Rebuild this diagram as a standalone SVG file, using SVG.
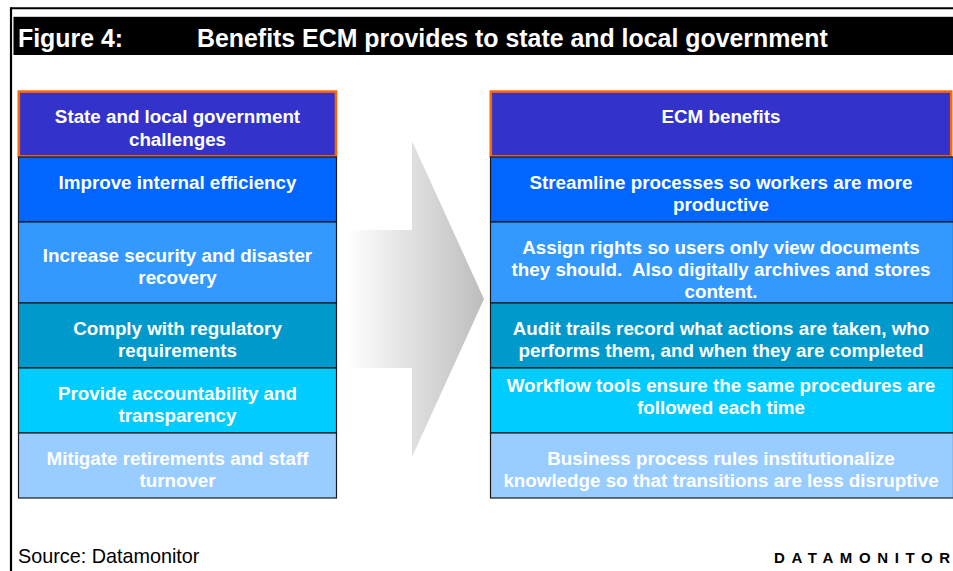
<svg xmlns="http://www.w3.org/2000/svg" width="953" height="571" viewBox="0 0 953 571">
<defs>
<linearGradient id="arrowGrad" gradientUnits="userSpaceOnUse" x1="347" y1="0" x2="484" y2="0">
<stop offset="0" stop-color="#FFFFFF"/>
<stop offset="1" stop-color="#BDBDBD"/>
</linearGradient>
<style>
.t{font-family:"Liberation Sans",Arial,sans-serif;font-weight:bold;font-size:18.8px;fill:#FFFFFF;text-anchor:middle;white-space:pre}
.hdr{fill:#3333CC;stroke:#FF6600;stroke-width:2.6}
.row{stroke:#1a1a1a;stroke-width:1.2}
.r1{fill:#0066FF}.r2{fill:#3399FF}.r3{fill:#0099CC}.r4{fill:#00CCFF}.r5{fill:#99CCFF}
.title{font-family:"Liberation Sans",Arial,sans-serif;font-weight:bold;font-size:24.9px;fill:#FFFFFF}
</style>
</defs>
<rect width="953" height="571" fill="#FFFFFF"/>
<g id="frame">
<line x1="11" y1="8.3" x2="953" y2="8.3" stroke="#000" stroke-width="2"/>
<line x1="11" y1="7.3" x2="11" y2="571" stroke="#000" stroke-width="2.2"/>
<rect x="13.5" y="16.8" width="939.5" height="38.2" fill="#000"/>
<text class="title" x="18" y="47">Figure 4:</text>
<text class="title" x="197" y="47">Benefits ECM provides to state and local government</text>
</g>
<g id="connectors">
<polygon points="347,230 412,230 412,141 484,299 412,457 412,368 347,368" fill="url(#arrowGrad)"/>
</g>
<g id="left-header">
<rect class="hdr" x="18.8" y="91.6" width="317.2" height="64.8"/>
<text class="t" x="177.5" y="123">State and local government</text>
<text class="t" x="177.5" y="146">challenges</text>
</g>
<g id="left-row1">
<rect class="row r1" x="18.5" y="157" width="318" height="65"/>
<text class="t" x="177.5" y="189.3">Improve internal efficiency</text>
</g>
<g id="left-row2">
<rect class="row r2" x="18.5" y="222" width="318" height="81"/>
<text class="t" x="177.5" y="261.6">Increase security and disaster</text>
<text class="t" x="177.5" y="283.8">recovery</text>
</g>
<g id="left-row3">
<rect class="row r3" x="18.5" y="303" width="318" height="65"/>
<text class="t" x="177.5" y="335">Comply with regulatory</text>
<text class="t" x="177.5" y="357">requirements</text>
</g>
<g id="left-row4">
<rect class="row r4" x="18.5" y="368" width="318" height="65"/>
<text class="t" x="177.5" y="400">Provide accountability and</text>
<text class="t" x="177.5" y="422">transparency</text>
</g>
<g id="left-row5">
<rect class="row r5" x="18.5" y="433" width="318" height="65"/>
<text class="t" x="177.5" y="465">Mitigate retirements and staff</text>
<text class="t" x="177.5" y="487">turnover</text>
</g>
<g id="right-header">
<rect class="hdr" x="490.8" y="91.6" width="460.4" height="64.8"/>
<text class="t" x="721" y="123">ECM benefits</text>
</g>
<g id="right-row1">
<rect class="row r1" x="490.5" y="157" width="463" height="65"/>
<text class="t" x="721" y="189.3">Streamline processes so workers are more</text>
<text class="t" x="721" y="211.3">productive</text>
</g>
<g id="right-row2">
<rect class="row r2" x="490.5" y="222" width="463" height="81"/>
<text class="t" x="721" y="253.5">Assign rights so users only view documents</text>
<text class="t" x="721" y="276">they should.  Also digitally archives and stores</text>
<text class="t" x="721" y="298.3">content.</text>
</g>
<g id="right-row3">
<rect class="row r3" x="490.5" y="303" width="463" height="65"/>
<text class="t" x="721" y="335">Audit trails record what actions are taken, who</text>
<text class="t" x="721" y="357">performs them, and when they are completed</text>
</g>
<g id="right-row4">
<rect class="row r4" x="490.5" y="368" width="463" height="65"/>
<text class="t" x="721" y="392">Workflow tools ensure the same procedures are</text>
<text class="t" x="721" y="414">followed each time</text>
</g>
<g id="right-row5">
<rect class="row r5" x="490.5" y="433" width="463" height="65"/>
<text class="t" x="721" y="465">Business process rules institutionalize</text>
<text class="t" x="721" y="487">knowledge so that transitions are less disruptive</text>
</g>
<g id="footer">
<text x="18" y="563" font-family="'Liberation Sans',Arial,sans-serif" font-size="19.8" fill="#000">Source: Datamonitor</text>
<text x="774" y="563" font-family="'Liberation Sans',Arial,sans-serif" font-size="15" font-weight="bold" letter-spacing="6.6" fill="#000">DATAMONITOR</text>
</g>
</svg>
